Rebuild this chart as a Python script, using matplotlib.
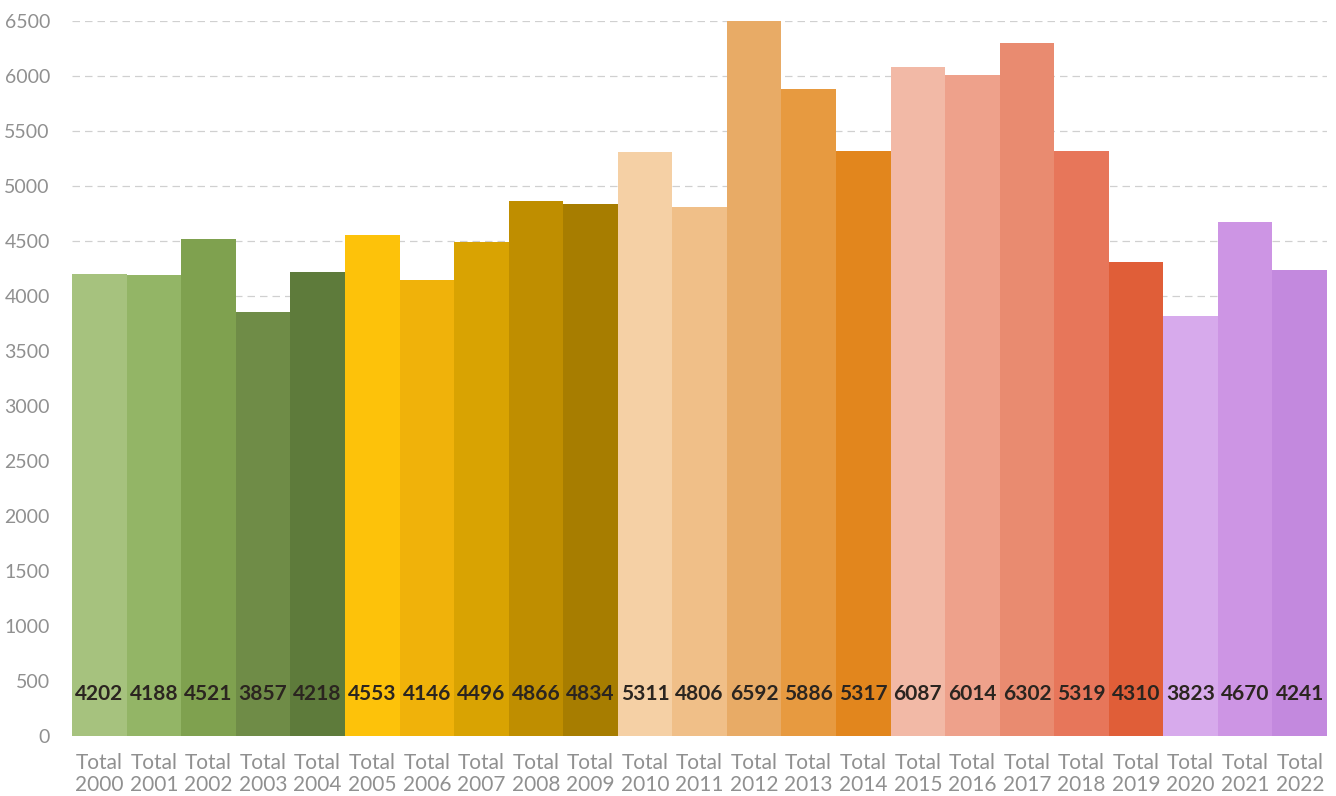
import matplotlib
matplotlib.use("Agg")
import matplotlib.pyplot as plt

# totals per year
years = [str(y) for y in range(2000, 2023)]
totals = [4202, 4188, 4521, 3857, 4218,
          4553, 4146, 4496, 4866, 4834,
          5311, 4806, 6592, 5886, 5317,
          6087, 6014, 6302, 5319, 4310,
          3823, 4670, 4241]

# five-year colour groups, light to dark
colors = ['#a6c27e', '#93b566', '#7fa14f', '#6f8c47', '#5e7b3b',
          '#fdc20a', '#f0b20a', '#d9a302', '#bf8e00', '#a77d00',
          '#f5d0a5', '#f0bf88', '#e8ab66', '#e79a40', '#e2861d',
          '#f2b9a6', '#eea18b', '#e98b70', '#e7765a', '#e05e38',
          '#d7aaec', '#cd95e4', '#c389de']

plt.rcParams['font.family'] = ['Lato', 'DejaVu Sans']

fig = plt.figure(figsize=(13.36, 7.96), dpi=100)
ax = fig.add_axes([0.054, 0.0754, 0.9393, 0.898])

x = range(len(years))
ax.bar(x, totals, width=1.0, color=colors, zorder=2)

for i, v in enumerate(totals):
    ax.text(i, 380, str(v), ha='center', va='center', fontsize=15,
            fontweight='bold', color='#2b2520', zorder=3)

ax.set_ylim(0, 6500)
ax.set_xlim(-0.5, len(years) - 0.5)
ax.set_yticks(range(0, 6501, 500))
ax.set_xticks(list(x))
ax.set_xticklabels(['Total\n' + y for y in years], linespacing=1.15)
ax.tick_params(axis='both', length=0, labelsize=14, colors='#909090')
ax.tick_params(axis='x', pad=12, labelsize=15)
ax.tick_params(axis='y', pad=16)

ax.yaxis.grid(True, linestyle=(0, (6, 4)), color='#d0d0d0', linewidth=0.9, zorder=1)
ax.set_axisbelow(True)
for s in ax.spines.values():
    s.set_visible(False)

fig.savefig('out.png', dpi=100, facecolor='white')
